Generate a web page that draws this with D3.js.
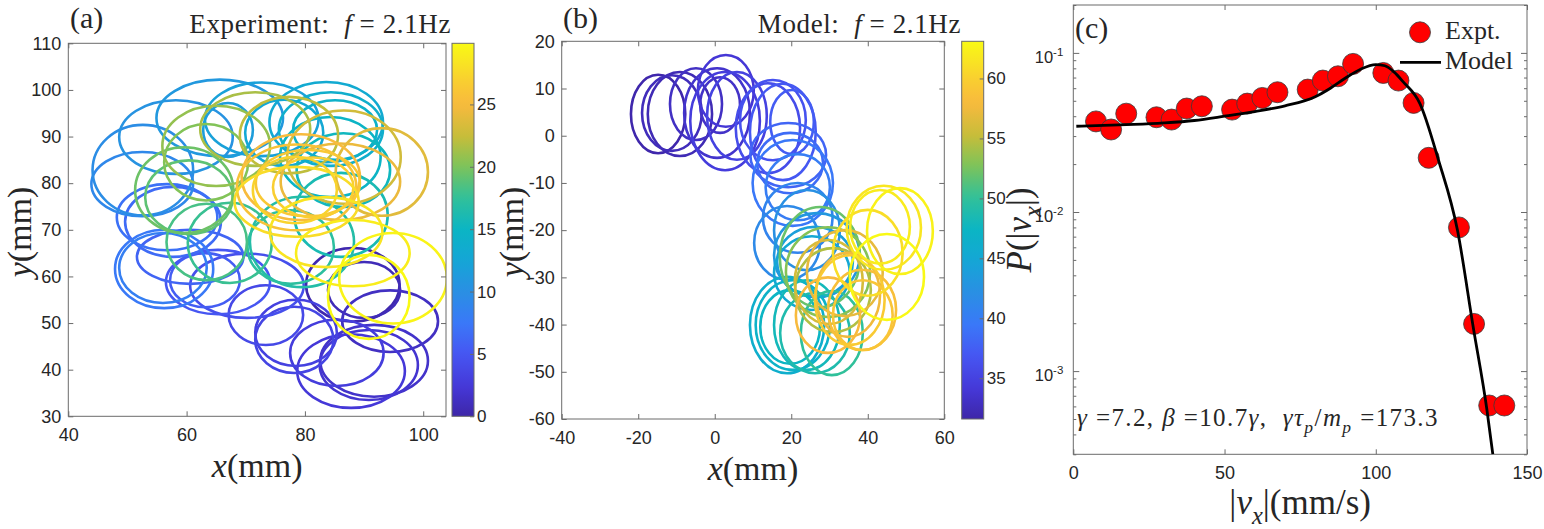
<!DOCTYPE html>
<html><head><meta charset="utf-8">
<script src="https://cdn.jsdelivr.net/npm/d3@7"></script>
<style>body{margin:0;background:#fff;} svg{display:block;} text{white-space:pre;}</style>
</head><body><svg id="c" width="1544" height="529"></svg>
<script>
// ---------------- DATA ----------------
// panel (a): experiment loops [cx(mm), cy(mm), rx(mm), ry(mm), time]
const loopsA = [
[88.1,58.2,7.9,7.9,0.3],[90.0,57.1,6.1,6.0,0.8],[94.4,50.4,8.1,6.6,1.3],[91.7,41.9,9.1,7.7,1.7],
[90.8,41.0,8.3,7.5,2.0],[87.8,39.7,9.1,7.9,2.4],[85.4,43.6,7.9,7.1,2.8],[78.5,47.9,6.9,7.1,3.2],
[78.2,46.4,6.6,7.1,3.5],[73.4,51.7,6.3,6.4,3.9],[70.2,58.0,9.6,6.9,4.4],[65.3,58.8,8.8,6.9,5.0],
[63.1,59.2,5.9,5.8,5.5],[60.6,64.2,9.0,5.8,6.0],[57.7,71.7,8.1,7.5,6.5],[56.7,72.7,8.5,7.1,7.0],
[56.2,61.6,8.3,8.4,7.6],[56.0,61.8,7.4,7.5,8.2],[52.5,79.8,8.6,6.9,9.2],[52.6,82.8,8.5,9.7,9.8],
[58.2,89.9,9.6,7.9,10.4],[65.6,94.0,10.7,8.2,11.0],[67.0,91.4,4.2,5.8,11.5],[72.7,93.7,9.6,7.9,12.0],
[76.5,90.8,6.6,7.1,12.8],[83.6,93.1,9.6,8.6,13.2],[84.4,91.6,8.8,7.9,13.8],[85.1,91.4,7.1,6.4,14.3],
[84.3,85.6,8.5,8.6,14.8],[86.5,82.8,7.9,7.9,15.3],[86.1,73.2,7.9,9.0,16.0],[79.5,67.4,8.8,9.7,16.7],
[77.6,66.3,7.3,7.9,17.2],[67.3,67.2,7.1,8.6,17.8],[63.4,67.4,6.8,8.2,18.3],[60.4,77.0,7.4,7.9,19.0],
[59.6,78.5,8.3,9.2,19.5],[63.3,84.5,7.1,8.2,20.2],[65.0,88.0,9.1,8.6,20.8],[71.6,91.6,9.3,7.9,21.5],
[77.3,90.3,8.3,8.2,22.2],[86.6,85.6,9.6,10.0,23.0],[93.0,82.4,7.8,9.4,23.8],[86.0,80.3,10.1,8.2,24.4],
[79.3,81.3,10.0,9.2,25.2],[78.6,79.1,10.1,9.2,25.8],[80.5,80.0,8.8,7.1,26.3],[81.4,79.1,6.8,6.4,26.8],
[78.3,78.5,7.1,7.1,27.2],[78.6,76.0,10.5,7.5,27.8],[83.6,69.5,9.5,7.5,28.4],[88.1,65.0,9.6,7.1,29.0],
[94.9,59.6,9.1,9.7,29.5],[90.8,55.6,6.9,9.0,29.9]
];
// panel (b): model loops [cx, cy, rx, ry, time]
const loopsB = [
[-14.8,4.6,7.1,8.3,31.8],[-9.1,4.6,8.4,8.9,32.3],[-11.2,4.8,7.8,8.0,32.6],[-4.9,6.7,6.8,7.6,33.0],
[1.4,6.5,5.2,5.9,33.3],[0.6,4.8,8.6,9.5,33.5],[2.9,9.5,7.3,7.6,34.0],[2.7,3.1,9.1,10.4,34.5],
[5.8,4.2,7.8,9.3,35.0],[13.9,1.6,8.4,9.5,36.0],[15.2,3.3,8.6,8.5,36.5],[17.8,0.8,8.6,10.2,37.0],
[20.2,2.9,5.7,6.8,37.3],[19.2,-4.1,9.9,6.8,38.0],[19.7,-5.8,8.6,6.4,38.5],[20.4,-10.0,10.5,9.1,39.5],
[21.7,-10.9,8.4,7.0,40.0],[21.7,-17.4,9.1,7.4,40.8],[18.9,-22.7,8.6,7.8,41.5],[24.1,-20.0,8.6,8.5,42.2],
[26.7,-25.3,11.2,8.9,43.0],[26.2,-26.7,9.9,7.4,44.0],[25.4,-29.1,9.9,7.8,45.0],[18.9,-40.1,9.7,10.2,46.2],
[20.4,-40.1,9.7,9.5,46.8],[19.7,-40.5,7.8,7.8,47.3],[24.1,-40.1,8.6,9.5,48.0],[26.2,-41.8,9.1,8.5,48.8],
[30.6,-41.8,8.1,8.9,50.0],[27.5,-25.7,10.5,10.6,52.0],[29.6,-28.9,11.0,9.5,53.0],[30.9,-32.7,9.9,8.9,54.5],
[29.8,-31.0,8.9,8.9,56.0],[34.0,-29.1,9.9,9.1,57.0],[34.8,-33.7,8.4,8.9,57.5],[29.6,-38.0,8.4,8.0,58.0],
[38.5,-36.9,8.9,8.5,58.5],[38.7,-38.0,7.8,7.4,59.0],[35.3,-34.8,9.1,9.5,59.5],[40.0,-24.8,9.1,9.1,61.0],
[44.2,-19.5,9.7,8.9,61.6],[43.2,-19.3,7.8,7.8,62.0],[48.4,-20.2,8.6,9.1,62.5],[45.0,-29.9,9.7,9.1,63.0]
];
// panel (c): experimental distribution
const exptV = [7.5,12.5,17.5,27.5,32.5,37.5,42.5,52.5,57.5,62.5,67.5,77.5,82.5,87.5,92.5,102.5,107.5,112.5,117.5,127.5,132.5,137.5,142.5];
const exptP = [0.0371,0.0330,0.0415,0.0394,0.0381,0.0447,0.0462,0.0440,0.0480,0.0521,0.0566,0.0588,0.0670,0.0713,0.0853,0.0748,0.0670,0.0485,0.0219,0.0080,0.00198,0.000608,0.000608];
// model curve samples
const modelV = [1,10,20,30,40,50,60,70,80,85,90,95,100,103,106,109,114.6,120.7,127,132.2,136.7,138.7];
const modelP = [0.0346,0.0350,0.0355,0.0363,0.0376,0.0400,0.0428,0.0465,0.0530,0.0600,0.0695,0.0790,0.0845,0.0830,0.0760,0.0660,0.0480,0.0213,0.0077,0.0019,0.00058,0.0003];
// ticks
const xTicksA = [40,60,80,100], yTicksA = [30,40,50,60,70,80,90,100,110], cTicksA = [0,5,10,15,20,25];
const xTicksB = [-40,-20,0,20,40,60], yTicksB = [-60,-50,-40,-30,-20,-10,0,10,20], cTicksB = [35,40,45,50,55,60];
const xTicksC = [0,50,100,150], yTicksC = [1e-3,1e-2,1e-1], yTickLabelsC = ["-3","-2","-1"];
// parula colormap stops
const parulaPos = [0,0.08,0.167,0.25,0.334,0.418,0.5,0.585,0.67,0.75,0.836,0.9,1];
const parulaCol = ["#3e26a8","#4538d8","#4656f2","#3a78f8","#2a8fe3","#15a6d6","#0bb5c4","#30c09a","#7dc35a","#c6bd3a","#f8b93e","#f9cf30","#f9fa14"];

// ---------------- DRAW ----------------
const svg = d3.select("#c");
const defs = svg.append("defs");
const parula = d3.scaleLinear().domain(parulaPos).range(parulaCol).interpolate(d3.interpolateRgb).clamp(true);
const AX = "#6b6b6b", TXT = "#262626";
const SERIF = "'Liberation Serif','Times New Roman',serif", SANS = "'Liberation Sans',Arial,sans-serif";

function rich(sel, parts, fs){
  let shift = 0;
  parts.forEach(p=>{
    const ts = sel.append("tspan").text(p.t);
    if(p.i) ts.attr("font-style","italic");
    const target = p.sub ? fs*0.28 : (p.sup ? -fs*0.4 : 0);
    if(target !== shift){ ts.attr("dy", target-shift); shift = target; }
    if(p.sub || p.sup) ts.attr("font-size", fs*0.7);
  });
}
function styleAxis(g, fs){
  g.attr("font-family", SANS).attr("font-size", fs);
  g.select(".domain").remove();
  g.selectAll(".tick line").attr("stroke", AX);
  g.selectAll(".tick text").attr("fill", TXT);
}

function loopPanel(o){
  const x = d3.scaleLinear().domain(o.xDom).range([o.x0,o.x1]);
  const y = d3.scaleLinear().domain(o.yDom).range([o.y1,o.y0]);
  const cn = d3.scaleLinear().domain(o.cDom).range([0,1]);
  const g = svg.append("g");
  defs.append("clipPath").attr("id","clip"+o.id).append("rect")
    .attr("x",o.x0).attr("y",o.y0).attr("width",o.x1-o.x0).attr("height",o.y1-o.y0);
  g.append("g").attr("clip-path",`url(#clip${o.id})`)
    .selectAll("ellipse").data(o.loops.slice().sort((a,b)=>a[4]-b[4])).join("ellipse")
    .attr("cx",d=>x(d[0])).attr("cy",d=>y(d[1]))
    .attr("rx",d=>x(d[0]+d[2])-x(d[0])).attr("ry",d=>y(d[1])-y(d[1]+d[3]))
    .attr("fill","none").attr("stroke",d=>parula(cn(d[4]))).attr("stroke-width",2.6);
  const fmt = d=>String(d);
  styleAxis(g.append("g").attr("transform",`translate(0,${o.y1})`).call(d3.axisBottom(x).tickValues(o.xTicks).tickFormat(fmt).tickSize(-5).tickPadding(12)),18);
  styleAxis(g.append("g").attr("transform",`translate(0,${o.y0})`).call(d3.axisTop(x).tickValues(o.xTicks).tickFormat("").tickSize(-5)),18);
  styleAxis(g.append("g").attr("transform",`translate(${o.x0},0)`).call(d3.axisLeft(y).tickValues(o.yTicks).tickFormat(fmt).tickSize(-5).tickPadding(7)),18);
  styleAxis(g.append("g").attr("transform",`translate(${o.x1},0)`).call(d3.axisRight(y).tickValues(o.yTicks).tickFormat("").tickSize(-5)),18);
  g.append("rect").attr("x",o.x0).attr("y",o.y0).attr("width",o.x1-o.x0).attr("height",o.y1-o.y0)
    .attr("fill","none").attr("stroke",AX).attr("stroke-width",1);
  // colorbar
  const gid = "grad"+o.id;
  const grad = defs.append("linearGradient").attr("id",gid).attr("x1",0).attr("y1",1).attr("x2",0).attr("y2",0);
  d3.range(0,1.0001,0.025).forEach(t=>grad.append("stop").attr("offset",t).attr("stop-color",parula(t)));
  g.append("rect").attr("x",o.cb0).attr("y",o.y0).attr("width",o.cb1-o.cb0).attr("height",o.y1-o.y0)
    .attr("fill",`url(#${gid})`).attr("stroke",AX).attr("stroke-width",1);
  const cy = d3.scaleLinear().domain(o.cDom).range([o.y1,o.y0]);
  styleAxis(g.append("g").attr("transform",`translate(${o.cb1},0)`).call(d3.axisRight(cy).tickValues(o.cTicks).tickFormat(fmt).tickSize(-4).tickPadding(3)),17);
  // texts
  g.append("text").attr("x",o.lblX).attr("y",28).attr("font-family",SERIF).attr("font-size",30).attr("fill",TXT).text(o.tag);
  rich(g.append("text").attr("x",o.titleEnd).attr("y",33).attr("text-anchor","end").attr("font-family",SERIF).attr("font-size",27).attr("letter-spacing",0.6).attr("fill",TXT),
    [{t:o.title},{t:"f",i:true},{t:" = 2.1Hz"}],27);
  rich(g.append("text").attr("x",(o.x0+o.x1)/2).attr("y",o.y1+61).attr("text-anchor","middle").attr("font-family",SERIF).attr("font-size",34).attr("fill",TXT),
    [{t:"x",i:true},{t:"(mm)"}],34);
  rich(g.append("text").attr("transform",`translate(${o.ylX},232) rotate(-90)`).attr("text-anchor","middle").attr("font-family",SERIF).attr("font-size",34).attr("fill",TXT),
    [{t:"y",i:true},{t:"(mm)"}],34);
}

loopPanel({id:"A",x0:68.3,x1:446,y0:43.3,y1:416.3,xDom:[40,103.85],yDom:[30,110],cDom:[0,29.9],
  xTicks:xTicksA,yTicks:yTicksA,cTicks:cTicksA,loops:loopsA,cb0:452,cb1:474,
  tag:"(a)",lblX:70,title:"Experiment:  ",titleEnd:451,ylX:31});
loopPanel({id:"B",x0:561.7,x1:944.3,y0:41.3,y1:419,xDom:[-40,60],yDom:[-60,20],cDom:[31.6,63.1],
  xTicks:xTicksB,yTicks:yTicksB,cTicks:cTicksB,loops:loopsB,cb0:961.7,cb1:983.7,
  tag:"(b)",lblX:563,title:"Model:  ",titleEnd:961,ylX:523});

// ---- panel (c) ----
(function(){
  const x0=1073.3,x1=1527,y0=5,y1=454.3;
  const x = d3.scaleLinear().domain([0,150]).range([x0,x1]);
  const y = d3.scaleLog().domain([3e-4,0.2]).range([y1,y0]);
  const g = svg.append("g");
  defs.append("clipPath").attr("id","clipC").append("rect").attr("x",x0).attr("y",y0).attr("width",x1-x0).attr("height",y1-y0);
  const minor = [];
  [-4,-3,-2,-1].forEach(e=>{ for(let k=2;k<=9;k++){ const v=k*Math.pow(10,e); if(v>=3e-4 && v<=0.2) minor.push(v);} });
  styleAxis(g.append("g").attr("transform",`translate(0,${y1})`).call(d3.axisBottom(x).tickValues(xTicksC).tickFormat(d=>String(d)).tickSize(-5).tickPadding(12)),18);
  styleAxis(g.append("g").attr("transform",`translate(0,${y0})`).call(d3.axisTop(x).tickValues(xTicksC).tickFormat("").tickSize(-5)),18);
  const yl = g.append("g").attr("transform",`translate(${x0},0)`).call(d3.axisLeft(y).tickValues(yTicksC).tickFormat("").tickSize(-6));
  styleAxis(yl,16);
  yl.selectAll(".tick").each(function(d,i){
    const t = d3.select(this).append("text").attr("x",-10).attr("y",9.5).attr("text-anchor","end").attr("fill",TXT).attr("font-family",SANS).attr("font-size",16.5);
    t.append("tspan").text("10");
    t.append("tspan").attr("dy",-7).attr("font-size",11.5).text(yTickLabelsC[i]);
  });
  styleAxis(g.append("g").attr("transform",`translate(${x0},0)`).call(d3.axisLeft(y).tickValues(minor).tickFormat("").tickSize(-3)),16);
  styleAxis(g.append("g").attr("transform",`translate(${x1},0)`).call(d3.axisRight(y).tickValues(yTicksC).tickFormat("").tickSize(-6)),16);
  styleAxis(g.append("g").attr("transform",`translate(${x1},0)`).call(d3.axisRight(y).tickValues(minor).tickFormat("").tickSize(-3)),16);
  g.append("rect").attr("x",x0).attr("y",y0).attr("width",x1-x0).attr("height",y1-y0).attr("fill","none").attr("stroke",AX);
  const pts = exptV.map((v,i)=>[v,exptP[i]]);
  g.selectAll("circle.pt").data(pts).join("circle").attr("class","pt")
    .attr("cx",d=>x(d[0])).attr("cy",d=>y(d[1])).attr("r",10.5)
    .attr("fill","#ff0000").attr("stroke","#3a3a3a").attr("stroke-width",0.8);
  const model = modelV.map((v,i)=>[v,modelP[i]]);
  g.append("path").attr("clip-path","url(#clipC)").datum(model)
    .attr("d",d3.line().x(d=>x(d[0])).y(d=>y(d[1])).curve(d3.curveMonotoneX))
    .attr("fill","none").attr("stroke","#000").attr("stroke-width",2.8);
  // legend
  g.append("circle").attr("cx",1420).attr("cy",32.3).attr("r",10.5).attr("fill","#ff0000").attr("stroke","#3a3a3a").attr("stroke-width",0.8);
  g.append("text").attr("x",1445).attr("y",38.5).attr("font-family",SERIF).attr("font-size",26).attr("fill",TXT).text("Expt.");
  g.append("line").attr("x1",1400).attr("x2",1441).attr("y1",62.3).attr("y2",62.3).attr("stroke","#000").attr("stroke-width",2.8);
  g.append("text").attr("x",1445).attr("y",68.5).attr("font-family",SERIF).attr("font-size",26).attr("fill",TXT).text("Model");
  // tag & annotation
  g.append("text").attr("x",1075).attr("y",38).attr("font-family",SERIF).attr("font-size",30).attr("fill",TXT).text("(c)");
  rich(g.append("text").attr("x",1077).attr("y",426).attr("font-family",SERIF).attr("font-size",25).attr("letter-spacing",1.4).attr("fill",TXT),
    [{t:"γ",i:true},{t:" =7.2, "},{t:"β",i:true},{t:" =10.7"},{t:"γ",i:true},{t:",  "},{t:"γτ",i:true},{t:"p",i:true,sub:true},
     {t:"/"},{t:"m",i:true},{t:"p",i:true,sub:true},{t:" =173.3"}],25);
  rich(g.append("text").attr("x",(x0+x1)/2).attr("y",514).attr("text-anchor","middle").attr("font-family",SERIF).attr("font-size",35).attr("fill",TXT),
    [{t:"|"},{t:"v",i:true},{t:"x",i:true,sub:true},{t:"|(mm/s)"}],35);
  rich(g.append("text").attr("transform","translate(1031,230) rotate(-90)").attr("text-anchor","middle").attr("font-family",SERIF).attr("font-size",35).attr("fill",TXT),
    [{t:"P",i:true},{t:"(|"},{t:"v",i:true},{t:"x",i:true,sub:true},{t:"|)"}],35);
})();
</script></body></html>
